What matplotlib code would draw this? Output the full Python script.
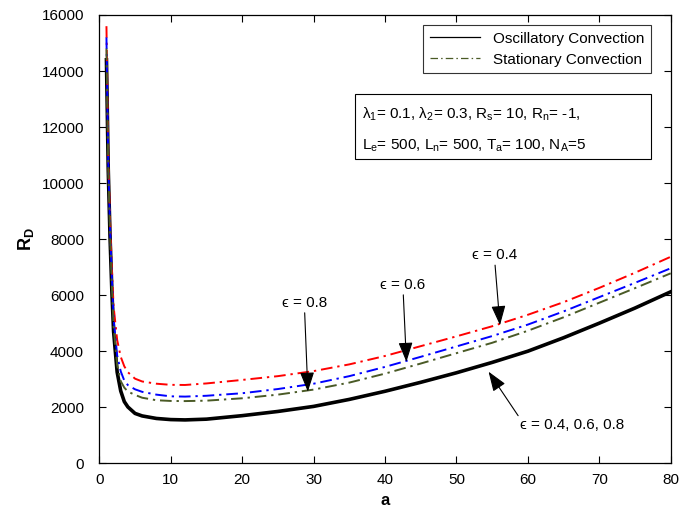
import matplotlib
matplotlib.use("Agg")
import matplotlib.pyplot as plt
from matplotlib.lines import Line2D
from matplotlib.patches import Rectangle

plt.rcParams["font.family"] = ["Liberation Sans", "DejaVu Sans"]
plt.rcParams["mathtext.fontset"] = "custom"
plt.rcParams["mathtext.rm"] = "Liberation Sans"
plt.rcParams["mathtext.it"] = "Liberation Sans:italic"
plt.rcParams["mathtext.bf"] = "Liberation Sans:bold"

# wavenumber a
a = [1, 1.25, 1.5, 1.75, 2, 2.5, 3, 3.5, 4, 5, 6, 8, 10, 12, 15, 20, 25, 30,
     35, 40, 45, 50, 55, 60, 65, 70, 75, 80]

# oscillatory convection (same for eps = 0.4, 0.6, 0.8)
osc = [14400, 10500, 8100, 6200, 4700, 3250, 2580, 2200, 2010, 1780, 1690,
       1600, 1560, 1548, 1575, 1700, 1850, 2030, 2280, 2570, 2890, 3230,
       3600, 4000, 4480, 5000, 5540, 6120]

# stationary convection
st_04 = [15600, 11000, 8700, 7000, 5600, 4400, 3800, 3460, 3250, 3020, 2920,
         2840, 2800, 2795, 2850, 2975, 3110, 3290, 3530, 3830, 4180, 4530,
         4890, 5300, 5750, 6260, 6800, 7370]
st_06 = [15200, 10800, 8400, 6700, 5150, 3850, 3280, 2950, 2790, 2640, 2550,
         2450, 2390, 2380, 2410, 2500, 2650, 2840, 3110, 3440, 3800, 4170,
         4540, 4950, 5420, 5930, 6440, 6960]
st_08 = [14800, 10600, 8200, 6400, 4900, 3500, 2930, 2700, 2560, 2440, 2340,
         2250, 2225, 2220, 2235, 2320, 2450, 2630, 2880, 3200, 3560, 3930,
         4300, 4730, 5210, 5730, 6250, 6780]

olive = "#4a5a26"
dashdot = (0, (6, 2.5, 1.2, 2.5))

fig = plt.figure(figsize=(6.94, 5.13), dpi=100)
ax = fig.add_axes([0.1431, 0.0969, 0.8233, 0.8739])

ax.plot(a, osc, color="black", lw=2.6)
ax.plot(a, st_04, color="red", lw=1.4, ls=dashdot)
ax.plot(a, st_06, color="blue", lw=1.4, ls=dashdot)
ax.plot(a, st_08, color=olive, lw=1.4, ls=dashdot)

ax.set_xlim(0, 80)
ax.set_ylim(0, 16000)
ax.set_xticks(range(0, 81, 10))
ax.set_yticks(range(0, 16001, 2000))
ax.tick_params(direction="in", top=True, right=True, labelsize=11, length=5,
               width=0.8)
ax.tick_params(axis="y", pad=11)
ax.tick_params(axis="x", pad=7)
for s in ax.spines.values():
    s.set_linewidth(0.9)

ax.set_xlabel("a", fontsize=12, fontweight="bold", labelpad=4)
ax.set_ylabel(r"$\mathbf{R_D}$", fontsize=13, labelpad=4)

handles = [Line2D([], [], color="black", lw=0.9),
           Line2D([], [], color=olive, lw=0.9, ls=dashdot)]
leg = ax.legend(handles, ["Oscillatory Convection", "Stationary Convection"],
                loc="upper right", bbox_to_anchor=(0.9655, 0.978),
                borderaxespad=0, fontsize=11, fancybox=False, framealpha=1,
                edgecolor="#333333", handlelength=3.3, borderpad=0.45,
                labelspacing=0.45)
leg.get_frame().set_linewidth(0.8)

# parameter box
ax.add_patch(Rectangle((0.4475, 0.6780), 0.518, 0.1450, transform=ax.transAxes,
                       fill=False, ec="black", lw=0.8))
ax.text(0.4598, 0.7790, r"λ$_\mathrm{1}$= 0.1, λ$_\mathrm{2}$= 0.3, R$_\mathrm{s}$= 10, R$_\mathrm{n}$= -1,",
        transform=ax.transAxes, fontsize=11, va="center", ha="left")
ax.text(0.4598, 0.7080, r"L$_\mathrm{e}$= 500, L$_\mathrm{n}$= 500, T$_\mathrm{a}$= 100, N$_\mathrm{A}$=5",
        transform=ax.transAxes, fontsize=11, va="center", ha="left")

arrow = dict(arrowstyle="-|>,head_length=1.1,head_width=0.4", color="black",
             lw=0.8, shrinkA=0, shrinkB=0)
ax.annotate("ϵ = 0.4", xy=(56.1, 4930), xytext=(55.3, 7420),
            fontsize=11, ha="center", va="center", arrowprops=arrow)
ax.annotate("ϵ = 0.6", xy=(43.0, 3620), xytext=(42.5, 6360),
            fontsize=11, ha="center", va="center", arrowprops=arrow)
ax.annotate("ϵ = 0.8", xy=(29.2, 2555), xytext=(28.7, 5720),
            fontsize=11, ha="center", va="center", arrowprops=arrow)
ax.annotate("ϵ = 0.4, 0.6, 0.8", xy=(54.5, 3270), xytext=(66.2, 1350),
            fontsize=11, ha="center", va="center",
            arrowprops=dict(arrow, relpos=(0.0, 1.0)))

fig.savefig("out.png", dpi=100)
